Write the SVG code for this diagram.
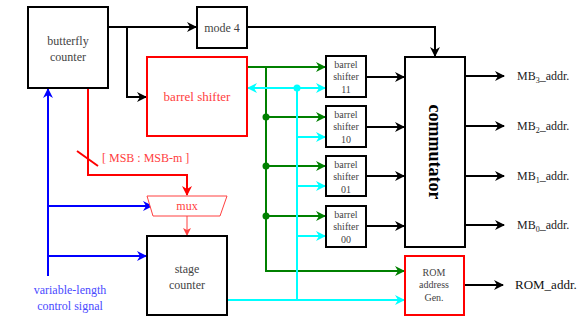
<svg xmlns="http://www.w3.org/2000/svg" width="587" height="321" viewBox="0 0 587 321">
<defs>
<marker id="ak" markerWidth="10" markerHeight="10" refX="9" refY="5" orient="auto" markerUnits="userSpaceOnUse"><path d="M0,0 L10,5 L0,10 L3,5 Z" fill="#000"/></marker>
<marker id="ag" markerWidth="10" markerHeight="10" refX="9" refY="5" orient="auto" markerUnits="userSpaceOnUse"><path d="M0,0 L10,5 L0,10 L3,5 Z" fill="#008000"/></marker>
<marker id="ac" markerWidth="10" markerHeight="10" refX="9" refY="5" orient="auto" markerUnits="userSpaceOnUse"><path d="M0,0 L10,5 L0,10 L3,5 Z" fill="#00ffff"/></marker>
<marker id="ab" markerWidth="10" markerHeight="10" refX="9" refY="5" orient="auto" markerUnits="userSpaceOnUse"><path d="M0,0 L10,5 L0,10 L3,5 Z" fill="#0000ff"/></marker>
<marker id="ar" markerWidth="10" markerHeight="10" refX="9" refY="5" orient="auto" markerUnits="userSpaceOnUse"><path d="M0,0 L10,5 L0,10 L3,5 Z" fill="#ff0000"/></marker>
<marker id="ar2" markerWidth="8" markerHeight="8" refX="7" refY="4" orient="auto" markerUnits="userSpaceOnUse"><path d="M0,0 L8,4 L0,8 L2,4 Z" fill="#ff4040"/></marker>
</defs>
<style>
text{font-family:"Liberation Serif","Times New Roman",serif;}
.box{fill:#fff;stroke:#000;stroke-width:2;}
.rbox{fill:#fff;stroke:#ff0000;stroke-width:2;}
.t{font-size:12px;fill:#444;text-anchor:middle;}
.ts{font-size:10px;fill:#444;text-anchor:middle;}
.k{fill:none;stroke:#000;stroke-width:2;}
.g{fill:none;stroke:#008000;stroke-width:2;}
.c{fill:none;stroke:#00ffff;stroke-width:2;}
.b{fill:none;stroke:#0000ff;stroke-width:2;}
.r{fill:none;stroke:#ff0000;stroke-width:2;}
.lbl{font-size:12px;fill:#222;}
</style>
<g id="connectors">
<polyline class="k" points="108,27 196,27" marker-end="url(#ak)"/>
<polyline class="k" points="127,27 127,97 146,97" marker-end="url(#ak)"/>
<polyline class="k" points="247,27 435,27 435,56" marker-end="url(#ak)"/>
<polyline class="r" points="88,88 88,175 187,175 187,195" marker-end="url(#ar)"/>
<line x1="77" y1="151" x2="98" y2="166" stroke="#ff0000" stroke-width="2"/>
<line x1="187" y1="216" x2="187" y2="235" stroke="#ff4040" stroke-width="1" marker-end="url(#ar2)"/>
<polyline class="b" points="48,276 48,89" marker-end="url(#ab)"/>
<polyline class="b" points="48,206 152,206" marker-end="url(#ab)"/>
<polyline class="b" points="48,256 146,256" marker-end="url(#ab)"/>
<polyline class="g" points="247,67 325,67" marker-end="url(#ag)"/>
<polyline class="g" points="266,67 266,271 404,271" marker-end="url(#ag)"/>
<polyline class="g" points="266,117 325,117" marker-end="url(#ag)"/>
<polyline class="g" points="266,166 325,166" marker-end="url(#ag)"/>
<polyline class="g" points="266,216 325,216" marker-end="url(#ag)"/>
<circle cx="266" cy="117" r="3.5" fill="#008000"/>
<circle cx="266" cy="166" r="3.5" fill="#008000"/>
<circle cx="266" cy="216" r="3.5" fill="#008000"/>
<polyline class="c" points="297,88 248,88" marker-end="url(#ac)"/>
<polyline class="c" points="297,88 325,88" marker-end="url(#ac)"/>
<polyline class="c" points="227,300 404,300" marker-end="url(#ac)"/>
<polyline class="c" points="297,88 297,300"/>
<polyline class="c" points="297,137 325,137" marker-end="url(#ac)"/>
<polyline class="c" points="297,186 325,186" marker-end="url(#ac)"/>
<polyline class="c" points="297,236 325,236" marker-end="url(#ac)"/>
<circle cx="297" cy="88" r="3.5" fill="#00ffff"/>
<polyline class="k" points="366,77 404,77" marker-end="url(#ak)"/>
<polyline class="k" points="366,127 404,127" marker-end="url(#ak)"/>
<polyline class="k" points="366,176 404,176" marker-end="url(#ak)"/>
<polyline class="k" points="366,226 404,226" marker-end="url(#ak)"/>
<polyline class="k" points="465,76 504,76" marker-end="url(#ak)"/>
<polyline class="k" points="465,126 504,126" marker-end="url(#ak)"/>
<polyline class="k" points="465,176 504,176" marker-end="url(#ak)"/>
<polyline class="k" points="465,225 504,225" marker-end="url(#ak)"/>
<polyline class="k" points="464,285 503,285" marker-end="url(#ak)"/>
<text x="102" y="162" font-size="12" fill="#ff4040">[ MSB : MSB-m ]</text>
<text x="70" y="294" font-size="12" fill="#4a4aff" text-anchor="middle">variable-length</text>
<text x="70" y="310" font-size="12" fill="#4a4aff" text-anchor="middle">control signal</text>
</g>
<g id="butterfly-counter"><rect class="box" x="28" y="7" width="80" height="81"/><text class="t" x="68" y="45">butterfly</text><text class="t" x="68" y="61">counter</text></g>
<g id="mode4"><rect class="box" x="197" y="7" width="50" height="41"/><text class="t" x="222" y="32">mode 4</text></g>
<g id="barrel-shifter"><rect class="rbox" x="147" y="57" width="100" height="79"/><text x="197" y="101" font-size="13" fill="#ff4040" text-anchor="middle">barrel shifter</text></g>
<g id="mux"><polygon points="147,196 227,196 220,216 153,216" fill="#fff" stroke="#ff4040" stroke-width="1"/><text x="187" y="210" font-size="12" fill="#ff4040" text-anchor="middle">mux</text></g>
<g id="stage-counter"><rect class="box" x="147" y="236" width="80" height="79"/><text class="t" x="187" y="273">stage</text><text class="t" x="187" y="289">counter</text></g>
<g id="bs11"><rect class="box" x="326" y="56" width="40" height="41"/><text class="ts" x="346" y="68">barrel</text><text class="ts" x="346" y="80">shifter</text><text class="ts" x="346" y="93">11</text></g>
<g id="bs10"><rect class="box" x="326" y="106" width="40" height="41"/><text class="ts" x="346" y="118">barrel</text><text class="ts" x="346" y="130">shifter</text><text class="ts" x="346" y="143">10</text></g>
<g id="bs01"><rect class="box" x="326" y="156" width="40" height="40"/><text class="ts" x="346" y="168">barrel</text><text class="ts" x="346" y="180">shifter</text><text class="ts" x="346" y="193">01</text></g>
<g id="bs00"><rect class="box" x="326" y="206" width="40" height="41"/><text class="ts" x="346" y="218">barrel</text><text class="ts" x="346" y="230">shifter</text><text class="ts" x="346" y="243">00</text></g>
<g id="commutator"><rect class="box" x="405" y="57" width="60" height="190"/><text transform="translate(429,152) rotate(90)" font-size="18" font-weight="bold" fill="#000" text-anchor="middle">commutator</text></g>
<g id="rom-gen"><rect class="rbox" x="405" y="256" width="59" height="59"/><text class="ts" x="434" y="276">ROM</text><text class="ts" x="434" y="288">address</text><text class="ts" x="434" y="301">Gen.</text></g>
<g id="outputs">
<text class="lbl" x="517" y="80">MB<tspan font-size="8" dy="3">3</tspan><tspan dy="-3">_addr.</tspan></text>
<text class="lbl" x="517" y="130">MB<tspan font-size="8" dy="3">2</tspan><tspan dy="-3">_addr.</tspan></text>
<text class="lbl" x="517" y="180">MB<tspan font-size="8" dy="3">1</tspan><tspan dy="-3">_addr.</tspan></text>
<text class="lbl" x="517" y="229">MB<tspan font-size="8" dy="3">0</tspan><tspan dy="-3">_addr.</tspan></text>
<text x="515" y="289" font-size="13" fill="#111">ROM_addr.</text>
</g>
</svg>
